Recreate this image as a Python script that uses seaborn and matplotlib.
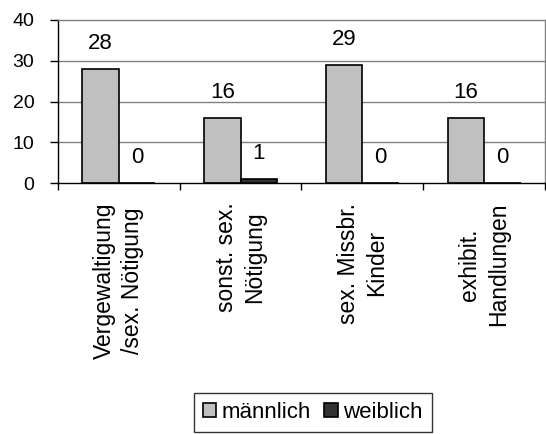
import pandas as pd
import matplotlib.pyplot as plt
import seaborn as sns

sns.set_theme(style="white")
plt.rcParams["font.family"] = ["Liberation Sans", "DejaVu Sans"]
plt.rcParams["text.color"] = "black"
plt.rcParams["xtick.color"] = "black"
plt.rcParams["ytick.color"] = "black"

kategorien = ["Vergewaltigung\n/sex. Nötigung", "sonst. sex.\nNötigung",
              "sex. Missbr.\nKinder", "exhibit.\nHandlungen"]
maennlich = [28, 16, 29, 16]
weiblich = [0, 1, 0, 0]

df = pd.DataFrame({
    "kategorie": kategorien * 2,
    "anzahl": maennlich + weiblich,
    "geschlecht": ["männlich"] * 4 + ["weiblich"] * 4,
})

fig = plt.figure(figsize=(5.46, 4.34), dpi=100)
ax = fig.add_axes([0.106, 0.578, 0.892, 0.376])

ax.set_axisbelow(True)
for y in [10, 20, 30]:
    ax.axhline(y, color="#808080", linewidth=1, zorder=0)

sns.barplot(
    data=df, x="kategorie", y="anzahl", hue="geschlecht",
    palette={"männlich": "#C0C0C0", "weiblich": "#333333"},
    width=0.6, edgecolor="black", linewidth=1.2, ax=ax, saturation=1,
)

for cont in ax.containers:
    for rect in cont:
        h = rect.get_height()
        ax.annotate(f"{h:.0f}", (rect.get_x() + rect.get_width() / 2, h),
                    textcoords="offset points", xytext=(0, 11),
                    ha="center", va="bottom", fontsize=16)

ax.set_ylim(0, 40)
ax.set_xlim(-0.5, 3.5)
ax.set_yticks([0, 10, 20, 30, 40])
ax.tick_params(axis="y", labelsize=14, left=True, length=6, width=1, color="black", pad=11)
ax.set_xticks(range(4))
ax.set_xticklabels(kategorien, rotation=90, ha="center", va="top", fontsize=16.5,
                   multialignment="center", linespacing=1.3)
ax.tick_params(axis="x", bottom=False, pad=8)
ax.set_xticks([-0.5, 0.5, 1.5, 2.5, 3.5], minor=True)
ax.tick_params(axis="x", which="minor", bottom=True, length=5, width=1, color="black")
ax.set_xlabel("")
ax.set_ylabel("")

ax.spines["left"].set_color("black")
ax.spines["bottom"].set_color("black")
ax.spines["top"].set_color("#808080")
ax.spines["right"].set_color("#808080")
for s in ax.spines.values():
    s.set_linewidth(1)

ax.get_legend().remove()
handles, labels = ax.get_legend_handles_labels()
leg = fig.legend(handles[:2], labels[:2], loc="lower center", ncol=2,
                 bbox_to_anchor=(0.573, -0.005), frameon=True, fancybox=False,
                 edgecolor="black", fontsize=16, handlelength=0.6, handleheight=0.6,
                 handletextpad=0.25, columnspacing=0.6, borderpad=0.4,
                 borderaxespad=0.2)
leg.get_frame().set_linewidth(1)

fig.savefig("out.png", dpi=100)
